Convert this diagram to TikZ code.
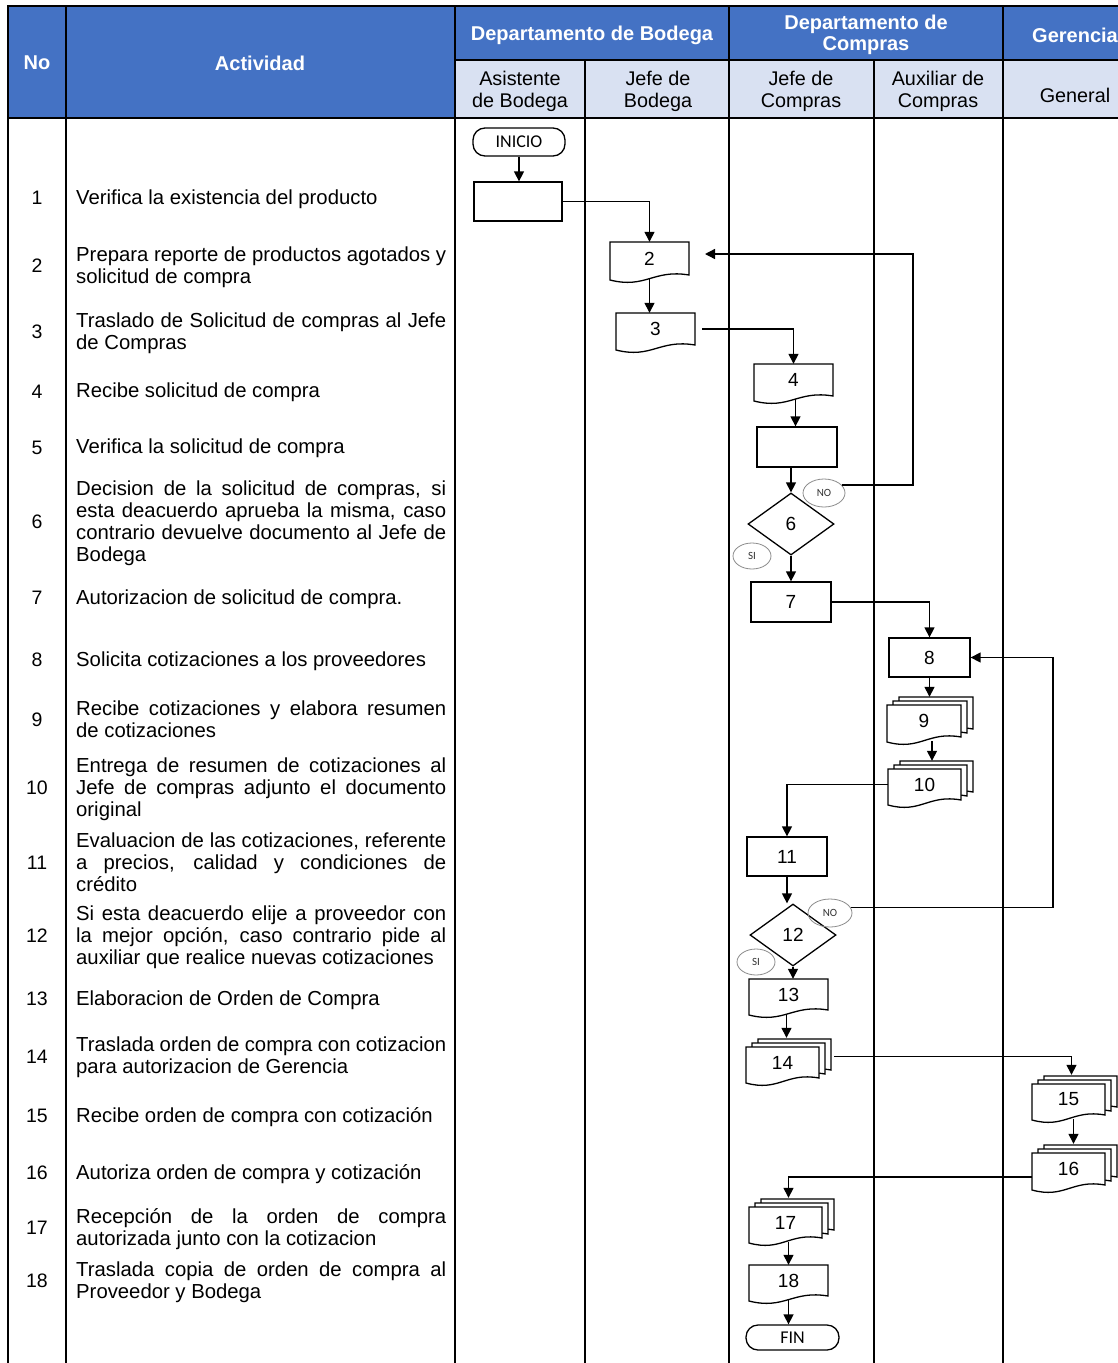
\documentclass[tikz,border=0pt]{standalone}
\usepackage{fontspec}
\setmainfont{Liberation Sans}
\newfontfamily\calibfont{Carlito}
\usetikzlibrary{arrows.meta,shapes.geometric,calc}
\definecolor{hblue}{HTML}{4472C4}
\definecolor{hlight}{HTML}{D9E1F2}
\definecolor{ovalgray}{HTML}{8C8C8C}
\newcommand\nohyph{\hyphenpenalty=10000 \exhyphenpenalty=10000 \tolerance=9999 \emergencystretch=15pt\relax}
\tikzset{
 tline/.style={line width=2pt},
 tthick/.style={line width=2.6pt},
 flow/.style={line width=1.4pt,-{Triangle[length=10pt,width=10pt]}},
 docline/.style={line width=1.3pt,line join=miter,fill=white},
 docnode/.style={inner sep=0pt,font=\fontsize{19}{19}\selectfont},
 procbox/.style={draw,line width=1.3pt,inner sep=0pt,font=\fontsize{19}{19}\selectfont},
 termbox/.style={draw,line width=1.3pt,rounded corners=12pt,inner sep=0pt,font=\calibfont\fontsize{18}{18}\selectfont},
 decbox/.style={draw,diamond,line width=1.3pt,inner sep=0pt,minimum width=86pt,minimum height=62pt,font=\fontsize{19}{19}\selectfont},
 ovallbl/.style={draw=ovalgray,ellipse,line width=0.8pt,inner sep=0pt,font=\calibfont\fontsize{11}{11}\selectfont,text=black!80},
 headtxt/.style={text=white,font=\bfseries\fontsize{20}{21.5}\selectfont,align=center,inner sep=0pt},
 subtxt/.style={font=\fontsize{19.8}{22}\selectfont,align=center,inner sep=0pt},
 numtxt/.style={font=\fontsize{19.5}{19.5}\selectfont,inner sep=0pt},
 acttxt/.style={anchor=base west,text width=370pt,align=justify,inner sep=0pt,font=\fontsize{20.3}{22}\selectfont,execute at begin node=\nohyph},
}
% document outline: L T R B
\newcommand\docshape[4]{\draw[docline] ({#3},{#4}) -- ({#3},{#2}) -- ({#1},{#2}) -- ({#1},{(#4)+5}) .. controls ({(#1)+0.45*((#3)-(#1))},{(#4)+14}) and ({(#1)+0.55*((#3)-(#1))},{(#4)-6}) .. ({#3},{#4}) -- cycle;}
% single document: name L T R B text
\newcommand\sdoc[6]{\docshape{#2}{#3}{#4}{#5}%
 \node[docnode,minimum width={(#4)-(#2)},minimum height={(#5)-(#3)}] (#1) at ({((#2)+(#4))/2},{((#3)+(#5))/2}) {#6};}
% multiple documents
\newcommand\mdoc[6]{\docshape{(#2)+12}{(#3)-8}{(#4)+12}{(#5)-8}%
 \docshape{(#2)+6}{(#3)-4}{(#4)+6}{(#5)-4}%
 \sdoc{#1}{#2}{#3}{#4}{#5}{#6}}
\begin{document}
\begin{tikzpicture}[x=1pt,y=-1pt]
\useasboundingbox (0,0) rectangle (1118,1363);
\clip (0,0) rectangle (1118,1363);
\fill[white] (0,0) rectangle (1118,1363);
% header background
\fill[hblue] (8,6) rectangle (1130,118);
\fill[hlight] (455,60) rectangle (1130,118);
% table lines
\draw[tline] (8,6) -- (1130,6);
\draw[tline] (455,60) -- (1130,60);
\draw[tline] (8,118) -- (1130,118);
\draw[tthick] (8,5) -- (8,1370);
\draw[tthick] (66,5) -- (66,1370);
\foreach \x in {455,729,1003} \draw[tline] (\x,5) -- (\x,1370);
\foreach \x in {585,874} \draw[tline] (\x,60) -- (\x,1370);
% header texts
\node[headtxt] (hno) at (37,63) {No};
\node[headtxt] (hact) at (260,63) {Actividad};
\node[headtxt] (hbod) at (592,35) {Departamento de Bodega};
\node[headtxt] (hcomp) at (866,35) {Departamento de\\Compras};
\node[headtxt] (hger) at (1075,35) {Gerencia};
\node[subtxt] (sasis) at (520,91) {Asistente\\de Bodega};
\node[subtxt] (sjefeb) at (658,91) {Jefe de\\Bodega};
\node[subtxt] (sjefec) at (801,91) {Jefe de\\Compras};
\node[subtxt] (saux) at (938,91) {Auxiliar de\\Compras};
\node[subtxt] (sgen) at (1075,95) {General};
% row numbers
\foreach \n/\y in {1/198,2/266,3/332,4/392,5/448,6/522,7/598,8/660,9/720,10/788,11/863,12/936,13/999,14/1057,15/1116,16/1173,17/1228,18/1281}
  \node[numtxt] (n\n) at (37,\y) {\n};
% activities
\node[acttxt] (a1) at (76,204) {Verifica la existencia del producto};
\node[acttxt] (a2) at (76,261) {Prepara reporte de productos agotados y\linebreak solicitud de compra};
\node[acttxt] (a3) at (76,327) {Traslado de Solicitud de compras al Jefe\linebreak de Compras};
\node[acttxt] (a4) at (76,397) {Recibe solicitud de compra};
\node[acttxt] (a5) at (76,453) {Verifica la solicitud de compra};
\node[acttxt] (a6) at (76,495) {Decision de la solicitud de compras, si\linebreak esta deacuerdo aprueba la misma, caso\linebreak contrario devuelve documento al Jefe de\linebreak Bodega};
\node[acttxt] (a7) at (76,604) {Autorizacion de solicitud de compra.};
\node[acttxt] (a8) at (76,666) {Solicita cotizaciones a los proveedores};
\node[acttxt] (a9) at (76,715) {Recibe cotizaciones y elabora resumen\linebreak de cotizaciones};
\node[acttxt] (a10) at (76,772) {Entrega de resumen de cotizaciones al\linebreak Jefe de compras adjunto el documento\linebreak original};
\node[acttxt] (a11) at (76,847) {Evaluacion de las cotizaciones, referente\linebreak a precios, calidad y condiciones de\linebreak crédito};
\node[acttxt] (a12) at (76,920) {Si esta deacuerdo elije a proveedor con\linebreak la mejor opción, caso contrario pide al\linebreak auxiliar que realice nuevas cotizaciones};
\node[acttxt] (a13) at (76,1005) {Elaboracion de Orden de Compra};
\node[acttxt] (a14) at (76,1051) {Traslada orden de compra con cotizacion\linebreak para autorizacion de Gerencia};
\node[acttxt] (a15) at (76,1122) {Recibe orden de compra con cotización};
\node[acttxt] (a16) at (76,1179) {Autoriza orden de compra y cotización};
\node[acttxt] (a17) at (76,1223) {Recepción de la orden de compra\linebreak autorizada junto con la cotizacion};
\node[acttxt] (a18) at (76,1276) {Traslada copia de orden de compra al\linebreak Proveedor y Bodega};
% flowchart shapes
\node[termbox,minimum width=92pt,minimum height=28pt] (ini) at (519,142) {INICIO};
\node[procbox,minimum width=88pt,minimum height=39pt] (p1) at (518,201.5) {};
\sdoc{d2}{610}{242}{689}{275}{2}
\sdoc{d3}{616}{313}{695}{345}{3}
\sdoc{d4}{754}{364}{833}{396}{4}
\node[procbox,minimum width=80pt,minimum height=40pt] (p5) at (797,447) {};
\node[decbox] (dec6) at (791,524) {6};
\node[procbox,minimum width=80pt,minimum height=40pt] (p7) at (791,602) {7};
\node[procbox,minimum width=81pt,minimum height=39pt] (p8) at (929.5,657.5) {8};
\mdoc{d9}{887}{705}{961}{737}{9}
\mdoc{d10}{888}{769}{961}{800}{10}
\node[procbox,minimum width=80pt,minimum height=39pt] (p11) at (787,856.5) {11};
\node[decbox] (dec12) at (793,935) {12};
\sdoc{d13}{749}{979}{828}{1010}{13}
\mdoc{d14}{746}{1047}{819}{1078}{14}
\mdoc{d15}{1032}{1084}{1105}{1115}{15}
\mdoc{d16}{1032}{1153}{1105}{1185}{16}
\mdoc{d17}{749}{1207}{822}{1238}{17}
\sdoc{d18}{749}{1265}{828}{1296}{18}
\node[termbox,minimum width=93pt,minimum height=25pt] (fin) at (792.5,1337.5) {FIN};
% yes/no labels
\node[ovallbl,minimum width=42pt,minimum height=28pt] (no6) at (824,493) {NO};
\node[ovallbl,minimum width=38pt,minimum height=26pt] (si6) at (752,556) {SI};
\node[ovallbl,minimum width=44pt,minimum height=28pt] (no12) at (830,913) {NO};
\node[ovallbl,minimum width=38pt,minimum height=26pt] (si12) at (756,962) {SI};
% helper coordinates
\coordinate (r1) at (913,254);
\coordinate (r1e) at (705,254);
\coordinate (r2) at (1053,657.5);
% connectors
\draw[flow] (ini.south) -- (ini.south |- p1.north);
\draw[flow] (p1.east) -| (d2.north);
\draw[flow] ($(d2.south)+(0,3)$) -- (d2.south |- d3.north);
\draw[flow] ($(d3.east)+(7,0)$) -| (d4.north);
\draw[flow] ($(d4.south)+(2,3)$) -- ($(d4.south |- p5.north)+(2,0)$);
\draw[flow] (p5.south -| dec6.north) -- (dec6.north);
\draw[flow] (no6.25) -| (r1) -- (r1e);
\draw[flow] (dec6.south) -- (dec6.south |- p7.north);
\draw[flow] (p7.east) -| (p8.north);
\draw[flow] (p8.south) -- ($(p8.south |- d9.north)+(0,-8)$);
\draw[flow] ($(d9.south)+(8,4)$) -- ($(d10.north)+(7.5,-8)$);
\draw[flow] (d10.west) -| (p11.north);
\draw[flow] (p11.south) -- (p11.south |- dec12.north);
\draw[flow] (no12.15) -| (r2) -- (p8.east);
\draw[flow] (dec12.south) -- (dec12.south |- d13.north);
\draw[flow] ($(d13.south)+(-2,4)$) -- ($(d13.south |- d14.north)+(-2,-9)$);
\draw[flow] ($(d14.east)+(15,-6)$) -| ($(d15.north)+(3,-9)$);
\draw[flow] ($(d15.south)+(5,4)$) -- ($(d16.north)+(5,-9)$);
\draw[flow] ($(d16.west)+(0,8)$) -| ($(d17.north)+(3,-9)$);
\draw[flow] ($(d18.north |- d17.south)+(0,4)$) -- (d18.north);
\draw[flow] ($(d18.south)+(0,4)$) -- (d18.south |- fin.north);
\end{tikzpicture}
\end{document}
